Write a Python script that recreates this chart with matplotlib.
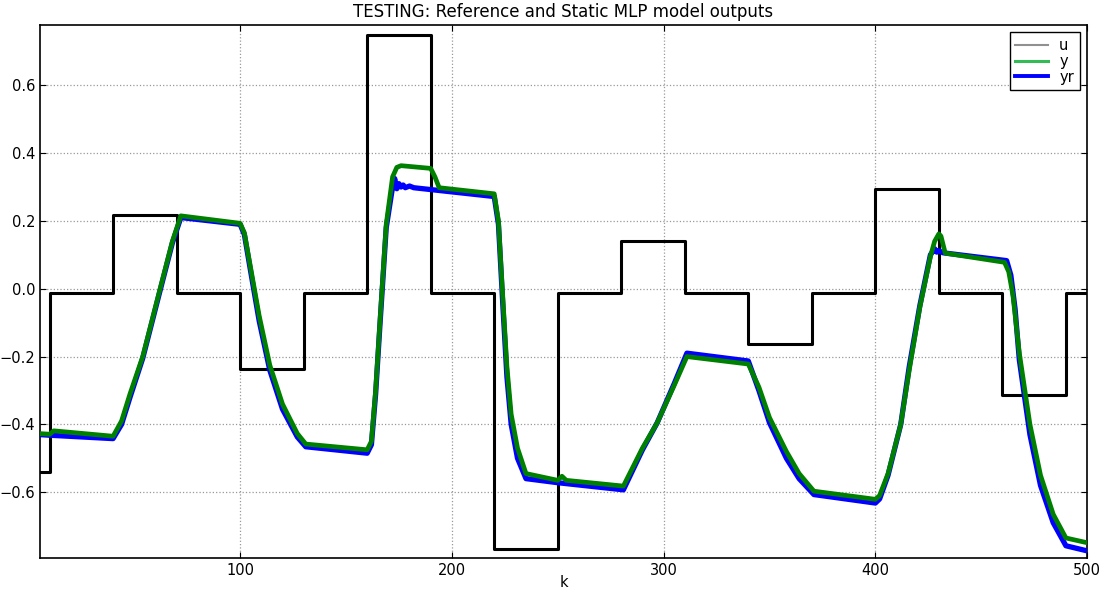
import numpy as np
import matplotlib
matplotlib.use('Agg')
import matplotlib.pyplot as plt
from matplotlib.lines import Line2D

# input u: step changes every 30 samples
u_edges = [5, 10, 40, 70, 100, 130, 160, 190, 220, 250, 280, 310, 340, 370, 400, 430, 460, 490, 500]
u_levels = [-0.541, -0.012, 0.217, -0.012, -0.237, -0.012, 0.748, -0.012, -0.768, -0.012,
            0.141, -0.012, -0.163, -0.012, 0.294, -0.012, -0.314, -0.012, -0.012]

# static MLP model output y
k_y = [5, 10, 12, 40, 44, 48, 54, 62, 68, 72, 100, 102, 105, 109, 114, 120, 127, 131,
       160, 162, 164, 166, 169, 172, 174, 176, 190, 192, 194, 220, 222, 224, 226, 228,
       231, 235, 250, 252, 254, 281, 290, 297, 305, 311, 340, 345, 350, 358, 364, 371,
       400, 402, 406, 412, 416, 421, 426, 428, 430, 431, 433, 461, 463, 465, 468, 473,
       478, 484, 490, 500]
y_vals = [-0.427, -0.429, -0.419, -0.435, -0.39, -0.31, -0.20, -0.005, 0.14, 0.215,
          0.193, 0.165, 0.06, -0.08, -0.225, -0.34, -0.427, -0.458,
          -0.475, -0.45, -0.30, -0.10, 0.19, 0.33, 0.358, 0.363, 0.355, 0.33, 0.298,
          0.28, 0.2, -0.02, -0.23, -0.37, -0.47, -0.545, -0.565, -0.553, -0.565,
          -0.582, -0.47, -0.395, -0.285, -0.2, -0.222, -0.29, -0.38, -0.48, -0.545,
          -0.597, -0.621, -0.61, -0.545, -0.40, -0.24, -0.055, 0.095, 0.14, 0.162,
          0.155, 0.105, 0.078, 0.05, -0.02, -0.19, -0.40, -0.55, -0.665, -0.735, -0.749]

# reference output yr
k_yr = [5, 10, 40, 44, 48, 54, 62, 68, 72, 100, 102, 105, 109, 114, 120, 127, 131,
        160, 162, 164, 166, 169, 172, 173, 174, 175, 176, 177, 178, 180, 182, 220, 222,
        224, 226, 228, 231, 235, 250, 281, 290, 297, 305, 311, 340, 345, 350, 358, 364,
        371, 400, 402, 406, 412, 416, 421, 426, 428, 429, 430, 432, 462, 464, 466, 468,
        473, 478, 484, 490, 500]
yr_vals = [-0.43, -0.432, -0.442, -0.40, -0.32, -0.205, -0.01, 0.135, 0.21,
           0.19, 0.16, 0.05, -0.095, -0.24, -0.355, -0.437, -0.466,
           -0.485, -0.46, -0.31, -0.11, 0.18, 0.30, 0.325, 0.295, 0.31, 0.30, 0.306,
           0.298, 0.303, 0.298, 0.272, 0.19, -0.04, -0.26, -0.40, -0.50, -0.56, -0.572,
           -0.593, -0.475, -0.395, -0.28, -0.19, -0.213, -0.30, -0.395, -0.50, -0.56,
           -0.607, -0.632, -0.62, -0.55, -0.40, -0.23, -0.05, 0.10, 0.118, 0.108, 0.112,
           0.106, 0.083, 0.04, -0.06, -0.21, -0.43, -0.58, -0.69, -0.758, -0.773]

fig = plt.figure(figsize=(11.06, 5.9), dpi=100)
ax = fig.add_axes([0.0362, 0.0537, 0.9467, 0.904])

ax.step(u_edges, u_levels, where='post', color='black', lw=2.2, zorder=2)
ax.plot(k_yr, yr_vals, color='#0000ff', lw=3.8, zorder=3)
ax.plot(k_y, y_vals, color='#008000', lw=3.4, zorder=4)

ax.set_xlim(5.5, 500)
ax.set_ylim(-0.795, 0.778)
ax.set_xticks([100, 200, 300, 400, 500])
ax.set_yticks([-0.6, -0.4, -0.2, 0.0, 0.2, 0.4, 0.6])
ax.grid(True, linestyle=':', color='0.6', lw=0.9)
ax.tick_params(direction='in', top=True, right=True, labelsize=10.5, length=4)
ax.set_xlabel('k', fontsize=10.5)
ax.xaxis.set_label_coords(0.5, -0.032)
ax.set_title('TESTING: Reference and Static MLP model outputs', fontsize=12)

handles = [Line2D([], [], color='#909090', lw=1.5),
           Line2D([], [], color='#33bb55', lw=2.2),
           Line2D([], [], color='#0000ff', lw=2.8)]
leg = ax.legend(handles, ['u', 'y', 'yr'], loc='upper right', fontsize=10.5,
                fancybox=False, framealpha=1, edgecolor='black',
                handlelength=2.2, borderaxespad=0.5, labelspacing=0.05)
leg.get_frame().set_linewidth(1.0)

for s in ax.spines.values():
    s.set_linewidth(1.2)

plt.savefig('out.png')
plt.close()
